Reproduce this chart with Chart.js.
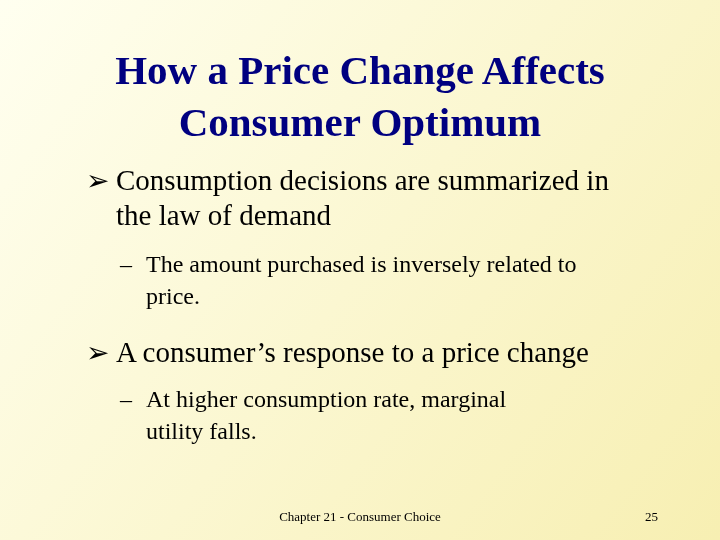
<!DOCTYPE html>
<html><head><meta charset="utf-8">
<script src="https://cdn.jsdelivr.net/npm/chart.js"></script>
<style>
body{margin:0;width:720px;height:540px;overflow:hidden}
#wrap{position:relative;width:720px;height:540px}
canvas{position:absolute;left:0;top:0}
.t{position:absolute;white-space:nowrap;color:#000;line-height:1;font-family:"Times New Roman",Times,"Liberation Serif",serif}
</style></head><body>
<div id="wrap"><canvas id="c" width="720" height="540"></canvas></div>
<script>
// slide text kept as small arrays
const titleLines = ['How a Price Change Affects', 'Consumer Optimum'];
const bullets = [
  { y: 166, lines: ['Consumption decisions are summarized in', 'the law of demand'] },
  { y: 338, lines: ['A consumer\u2019s response to a price change'] }
];
const subBullets = [
  { y: 252, lines: ['The amount purchased is inversely related to', 'price.'] },
  { y: 387, lines: ['At higher consumption rate, marginal', 'utility falls.'] }
];
const footer = 'Chapter 21 - Consumer Choice';
const pageNo = '25';

const bg = {
  id: 'bg',
  beforeDraw(chart) {
    const ctx = chart.ctx;
    const g = ctx.createLinearGradient(0, 0, 720, 540);
    g.addColorStop(0, '#fffff0');
    g.addColorStop(1, '#f7efb2');
    ctx.save();
    ctx.fillStyle = g;
    ctx.fillRect(0, 0, 720, 540);
    ctx.restore();
  }
};
new Chart(document.getElementById('c'), {
  type: 'bar',
  data: { labels: [], datasets: [] },
  options: {
    responsive: false, animation: false,
    plugins: { legend: { display: false }, tooltip: { enabled: false } },
    scales: { x: { display: false }, y: { display: false } }
  },
  plugins: [bg]
});

const wrap = document.getElementById('wrap');
function add(text, x, y, css) {
  const d = document.createElement('div');
  d.className = 't';
  d.textContent = text;
  d.style.left = x + 'px';
  d.style.top = y + 'px';
  Object.assign(d.style, css || {});
  wrap.appendChild(d);
}
titleLines.forEach((s, i) => add(s, 0, 50 + i * 52, {
  width: '720px', textAlign: 'center', fontSize: '41px', fontWeight: 'bold', color: '#000080'
}));
bullets.forEach(b => {
  add('\u27a2', 86, b.y + 1, { fontSize: '28px', fontFamily: 'DejaVu Sans' });
  b.lines.forEach((s, i) => add(s, 116, b.y + i * 35, { fontSize: '29px' }));
});
subBullets.forEach(b => {
  add('\u2013', 120, b.y, { fontSize: '24px' });
  b.lines.forEach((s, i) => add(s, 146, b.y + i * 32, { fontSize: '24px' }));
});
add(footer, 0, 510, { width: '720px', textAlign: 'center', fontSize: '13px' });
add(pageNo, 645, 510, { fontSize: '13px' });
</script>
</body></html>
